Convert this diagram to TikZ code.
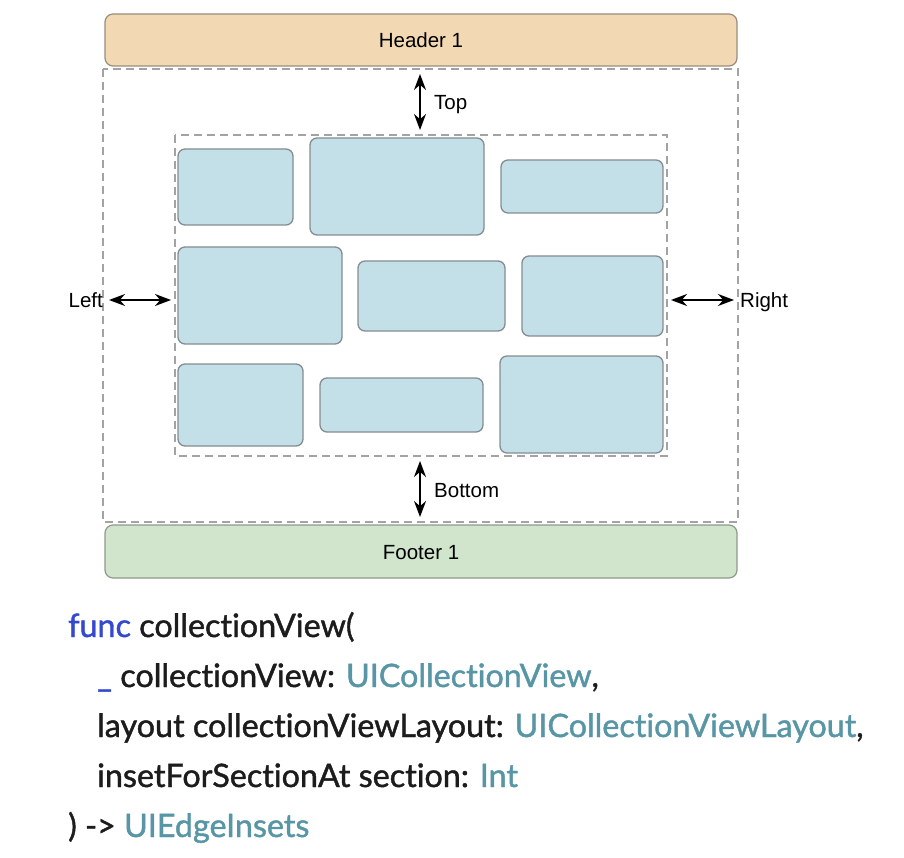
\documentclass[tikz,border=0pt]{standalone}
\usepackage{fontspec}
\setmainfont{Liberation Sans}
\newfontfamily\codefont[Ligatures=NoCommon, FakeBold=1.3]{Lato}
\usetikzlibrary{arrows.meta}
\definecolor{hdrfill}{HTML}{F2D9B4}
\definecolor{hdrdraw}{HTML}{9A8C7C}
\definecolor{ftrfill}{HTML}{D0E5CC}
\definecolor{ftrdraw}{HTML}{8E9A8C}
\definecolor{cellfill}{HTML}{C3DFE8}
\definecolor{celldraw}{HTML}{858D92}
\definecolor{dashgray}{HTML}{A3A3A3}
\definecolor{kwblue}{HTML}{3549CF}
\definecolor{typeteal}{HTML}{5896A5}
\definecolor{codeblack}{HTML}{1C1C1C}
\tikzset{
  bar/.style={draw=#1, line width=1.2pt, rounded corners=8pt},
  cell/.style={draw=celldraw, fill=cellfill, line width=1.3pt, rounded corners=7pt},
  dashbox/.style={draw=dashgray, line width=1.3pt, dash pattern=on 8pt off 5pt},
  lbl/.style={font=\fontsize{20.5}{24}\selectfont, text=black, inner sep=0pt, anchor=base},
  insetarrow/.style={{Stealth[length=16pt,width=12pt]}-{Stealth[length=16pt,width=12pt]}, line width=1.8pt, black},
  codeline/.style={anchor=base west, inner sep=0pt, text=codeblack, font=\codefont\fontsize{32.3}{36}\selectfont}
}
\begin{document}
\begin{tikzpicture}[x=1pt,y=-1pt]
\useasboundingbox (0,0) rectangle (904,858);
% header and footer
\draw[bar=hdrdraw, fill=hdrfill] (105,14) rectangle (737,66);
\node[lbl] (header) at (421,48) {Header 1};
\draw[bar=ftrdraw, fill=ftrfill] (105,525) rectangle (737,578);
\node[lbl] (footer) at (421,559) {Footer 1};
% dashed boxes
\draw[dashbox] (103,69) rectangle (738,522);
\draw[dashbox] (175,135) rectangle (667,456);
% cells
\draw[cell] (178,149) rectangle (293,225);
\draw[cell] (310,138) rectangle (484,235);
\draw[cell] (501,160) rectangle (663,213);
\draw[cell] (178,247) rectangle (342,344);
\draw[cell] (358,261) rectangle (505,331);
\draw[cell] (522,256) rectangle (663,336);
\draw[cell] (178,364) rectangle (303,446);
\draw[cell] (320,378) rectangle (483,432);
\draw[cell] (500,356) rectangle (663,453);
% inset arrows
\coordinate (t1) at (420,74);
\coordinate (t2) at (420,130);
\draw[insetarrow] (t1) -- (t2);
\node[lbl, anchor=base west] (top) at (434,110) {Top};
\coordinate (b1) at (420,461);
\coordinate (b2) at (420,517);
\draw[insetarrow] (b1) -- (b2);
\node[lbl, anchor=base west] (bottom) at (434,497) {Bottom};
\coordinate (l1) at (109,300);
\coordinate (l2) at (171,300);
\draw[insetarrow] (l1) -- (l2);
\node[lbl, anchor=base east] (left) at (103,308) {Left};
\coordinate (r1) at (671,300);
\coordinate (r2) at (734,300);
\draw[insetarrow] (r1) -- (r2);
\node[lbl, anchor=base west] (right) at (740,308) {Right};
% code
\node[codeline] (c1) at (68,637) {\textcolor{kwblue}{func} collectionView(};
\node[codeline] (c2) at (97,687) {\textcolor{kwblue}{\_} collectionView: \textcolor{typeteal}{UICollectionView},};
\node[codeline] (c3) at (97,737) {layout collectionViewLayout: \textcolor{typeteal}{UICollectionViewLayout},};
\node[codeline] (c4) at (97,787) {insetForSectionAt section: \textcolor{typeteal}{Int}};
\node[codeline] (c5) at (68,837) {) -> \textcolor{typeteal}{UIEdgeInsets}};
\end{tikzpicture}
\end{document}
